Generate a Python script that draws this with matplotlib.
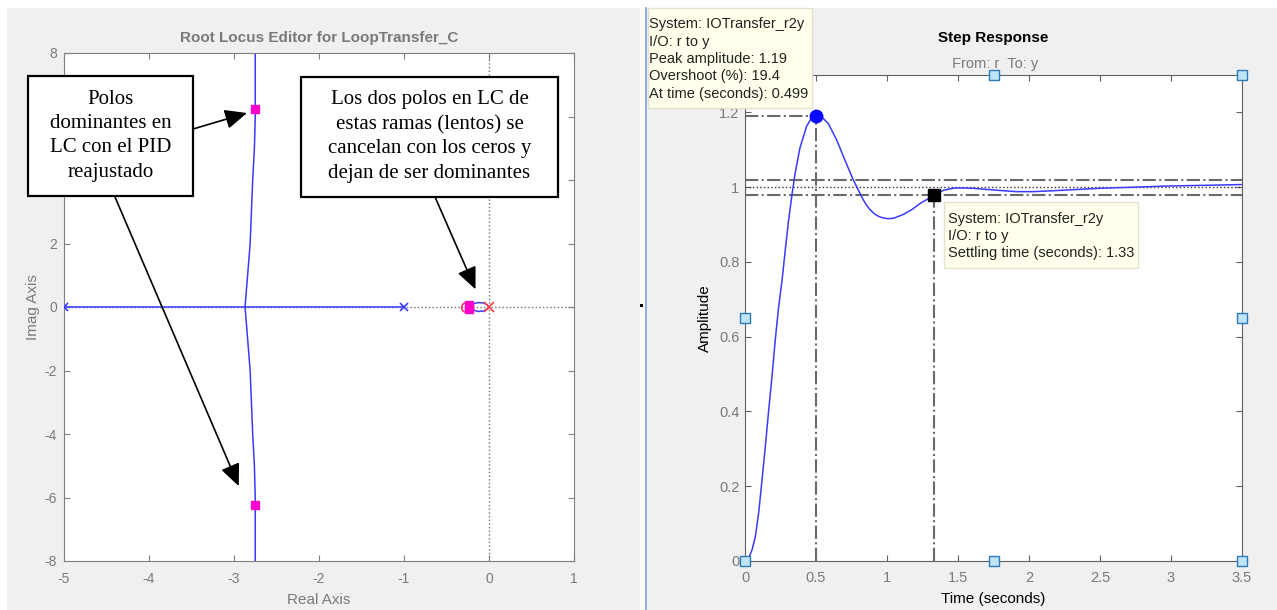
import numpy as np
import matplotlib
matplotlib.use('Agg')
import matplotlib.pyplot as plt
from matplotlib.patches import Rectangle

W, H = 1277, 610

# ---- root locus data (left) ----
real_x = [-5, -1]
real_y = [0, 0]
branch_x = [-2.75, -2.75, -2.76, -2.78, -2.81, -2.84, -2.87, -2.84, -2.81, -2.78, -2.76, -2.75, -2.75]
branch_y = [8, 6, 5, 4, 2, 1, 0, -1, -2, -4, -5, -6, -8]
loop_x = [-0.20, -0.18, -0.13, -0.07, -0.02, 0.0, -0.02, -0.07, -0.13, -0.18, -0.20]
loop_y = [0, 0.10, 0.14, 0.13, 0.07, 0, -0.07, -0.13, -0.14, -0.10, 0]
ol_poles = [-5, -1]
origin_pole = [0]
cl_zeros = [-0.27]
cl_poles_x = [-2.75, -2.75, -0.23, -0.23]
cl_poles_y = [6.25, -6.25, 0.05, -0.05]
rl_yticklabels = ['-8', '-6', '-4', '-2', '0', '2', '', '', '8']   # 4 and 6 hidden by the boxes

# ---- step response data (right) ----
t = [0, 0.021, 0.049, 0.073, 0.096, 0.120, 0.143, 0.167, 0.190, 0.213, 0.237, 0.261,
     0.283, 0.305, 0.329, 0.352, 0.387, 0.434, 0.470, 0.499, 0.540, 0.587, 0.646,
     0.704, 0.763, 0.822, 0.850, 0.880, 0.910, 0.940, 0.970, 0.998, 1.030, 1.055,
     1.115, 1.175, 1.232, 1.285, 1.333, 1.40, 1.467, 1.514, 1.60, 1.70, 1.80, 1.913,
     2.03, 2.148, 2.30, 2.50, 2.75, 2.97, 3.25, 3.5]
amp = [0, 0.004, 0.029, 0.065, 0.128, 0.217, 0.306, 0.404, 0.493, 0.591, 0.680, 0.751,
       0.830, 0.905, 0.975, 1.035, 1.105, 1.163, 1.186, 1.194, 1.188, 1.170, 1.126,
       1.072, 1.019, 0.974, 0.955, 0.940, 0.929, 0.922, 0.918, 0.916, 0.916, 0.918,
       0.927, 0.940, 0.956, 0.968, 0.980, 0.992, 0.997, 0.998, 0.997, 0.994, 0.991, 0.988,
       0.988, 0.990, 0.993, 0.997, 1.000, 1.003, 1.005, 1.007]
peak_t, peak_y = 0.499, 1.19
settle_t, settle_y = 1.33, 0.98
handles_t = [0, 1.75, 3.5, 0, 3.5, 1.75, 3.5]
handles_y = [0, 0, 0, 0.65, 0.65, 1.3, 1.3]

GRAY_BG = '#f0f0f0'
TXT_GRAY = '#7a7a7a'


def fx(px):
    return px / W


def fy(py):
    return 1 - py / H


plt.rcParams['font.family'] = ['Liberation Sans', 'DejaVu Sans']
plt.rcParams['axes.unicode_minus'] = False

fig = plt.figure(figsize=(W / 100, H / 100), dpi=100)
fig.patch.set_facecolor('white')
fig.add_artist(Rectangle((fx(7), 0), fx(633), 1 - 8 / H, transform=fig.transFigure,
                         facecolor=GRAY_BG, edgecolor='none', zorder=-10))
fig.add_artist(Rectangle((fx(646), 0), fx(631), 1 - 8 / H, transform=fig.transFigure,
                         facecolor=GRAY_BG, edgecolor='none', zorder=-10))
fig.add_artist(plt.Line2D([fx(645.5), fx(645.5)], [0, fy(8)], transform=fig.transFigure,
                          color='#7aa7d8', lw=1.2, zorder=-9))
fig.add_artist(Rectangle((fx(640), fy(307)), fx(3), 3 / H, transform=fig.transFigure,
                         facecolor='black', edgecolor='none'))

# ================= left: root locus =================
ax1 = fig.add_axes([fx(64), fy(561), fx(510), (561 - 53) / H])
ax1.set_facecolor('white')
ax1.set_xlim(-5, 1)
ax1.set_ylim(-8, 8)
ax1.set_xticks(range(-5, 2))
ax1.set_yticks(range(-8, 9, 2))
ax1.set_yticklabels(rl_yticklabels)
ax1.tick_params(direction='in', top=True, right=True, length=4, colors='#808080',
                labelcolor=TXT_GRAY, labelsize=10)
ax1.tick_params(axis='x', pad=8)
ax1.tick_params(axis='y', pad=5)
for s in ax1.spines.values():
    s.set_color('#808080')

ax1.axhline(0, color='#707070', ls=':', lw=1, zorder=1)
ax1.axvline(0, color='#707070', ls=':', lw=1, zorder=1)
ax1.plot(real_x, real_y, color='#3a3aff', lw=1.1, zorder=2)
ax1.plot(branch_x, branch_y, color='#3a3aff', lw=1.1, zorder=2)
ax1.plot(loop_x, loop_y, color='#3a3aff', lw=1.1, zorder=2)
ax1.plot(ol_poles, [0] * len(ol_poles), 'x', color='#3a3aff', ms=6, mew=1.2, zorder=3)
ax1.plot(origin_pole, [0], 'x', color='#ff4040', ms=7, mew=1.2, zorder=3)
ax1.plot(cl_zeros, [0], 'o', mfc='none', mec='#ff3366', ms=7, mew=1.2, zorder=3)
ax1.plot(cl_poles_x, cl_poles_y, 's', color='#ff00cc', ms=6, zorder=4)

fig.text(fx(319), fy(38), 'Root Locus Editor for LoopTransfer_C', ha='center', va='center',
         fontsize=11, fontweight='bold', color=TXT_GRAY)
fig.text(fx(319), fy(600), 'Real Axis', ha='center', va='center', fontsize=11, color=TXT_GRAY)
fig.text(fx(33), fy(307), 'Imag Axis', ha='center', va='center', fontsize=11,
         color=TXT_GRAY, rotation=90)

# annotation boxes
boxes = [
    ((-5.424, 3.496), 1.942, 3.78, (-4.453, 5.40),
     'Polos\ndominantes en\nLC con el PID\nreajustado'),
    ((-2.212, 3.465), 3.024, 3.78, (-0.70, 5.37),
     'Los dos polos en LC de\nestas ramas (lentos) se\ncancelan con los ceros y\ndejan de ser dominantes'),
]
for xy, w, h, c, txt in boxes:
    ax1.add_patch(Rectangle(xy, w, h, facecolor='white', edgecolor='black', lw=1.6,
                            clip_on=False, zorder=10))
    ax1.text(c[0], c[1], txt, ha='center', va='center', fontsize=15,
             family='Liberation Serif', linespacing=1.38, zorder=11, clip_on=False)

arrows = [((-3.482, 5.606), (-2.847, 6.11)),
          ((-4.40, 3.465), (-2.944, -5.64)),
          ((-0.635, 3.465), (-0.159, 0.557))]
for start, tip in arrows:
    ax1.annotate('', xy=tip, xytext=start, zorder=12,
                 arrowprops=dict(arrowstyle='-|>,head_length=0.9,head_width=0.4',
                                 color='black', lw=1.2, shrinkA=0, shrinkB=0,
                                 mutation_scale=15))

# ================= right: step response =================
ax2 = fig.add_axes([fx(745), fy(561), fx(497), (561 - 75) / H])
ax2.set_facecolor('white')
ax2.set_xlim(0, 3.5)
ax2.set_ylim(0, 1.3)
ax2.set_xticks(np.arange(0, 3.51, 0.5))
ax2.set_xticklabels(['0', '0.5', '1', '1.5', '2', '2.5', '3', '3.5'])
ax2.set_yticks(np.arange(0, 1.21, 0.2))
ax2.set_yticklabels(['0', '0.2', '0.4', '0.6', '0.8', '1', '1.2'])
ax2.tick_params(direction='in', top=True, right=True, length=4, colors='#606060',
                labelcolor=TXT_GRAY, labelsize=10.5)
ax2.tick_params(axis='x', pad=7)
ax2.tick_params(axis='y', pad=4)
for s in ax2.spines.values():
    s.set_color('#606060')

dd = dict(color='#6a6a6a', ls='-.', lw=1.5, zorder=2)
ax2.axhline(1.02, **dd)
ax2.axhline(0.98, **dd)
ax2.plot([0, peak_t], [peak_y, peak_y], **dd)
ax2.plot([peak_t, peak_t], [0, peak_y], **dd)
ax2.plot([settle_t, settle_t], [0, settle_y], **dd)
ax2.axhline(1.0, color='#333333', ls=':', lw=1, zorder=2)
ax2.plot(t, amp, color='#3a3aff', lw=1.1, zorder=3)
ax2.plot(peak_t, peak_y, 'o', color='#0a0aff', ms=9, zorder=4)
ax2.plot(settle_t, settle_y, 's', color='black', ms=9, zorder=4)
ax2.plot(handles_t, handles_y, 's', mfc='#bfe3f7', mec='#2b7bb9', ms=7, mew=1,
         clip_on=False, zorder=5)

fig.text(fx(993), fy(38), 'Step Response', ha='center', va='center', fontsize=11,
         fontweight='bold', color='black')
fig.text(fx(995), fy(64), 'From: r  To: y', ha='center', va='center', fontsize=10.5,
         color=TXT_GRAY)
fig.text(fx(993), fy(599), 'Time (seconds)', ha='center', va='center', fontsize=11)
fig.text(fx(705), fy(318), 'Amplitude', ha='center', va='center', fontsize=11, rotation=90)

# data tips
tips = [
    ((648, 8, 812, 108), 649,
     'System: IOTransfer_r2y\nI/O: r to y\nPeak amplitude: 1.19\nOvershoot (%): 19.4\nAt time (seconds): 0.499'),
    ((944, 202, 1138, 268), 948,
     'System: IOTransfer_r2y\nI/O: r to y\nSettling time (seconds): 1.33'),
]
for (x0, y0, x1, y1), tx, txt in tips:
    fig.add_artist(Rectangle((fx(x0), fy(y1)), fx(x1 - x0), (y1 - y0) / H,
                             transform=fig.transFigure, facecolor='#ffffec',
                             edgecolor='#e2e2d0', lw=1, zorder=20))
    fig.text(fx(tx), fy((y0 + y1) / 2 + 1), txt, ha='left', va='center', fontsize=10.5,
             linespacing=1.3, color='#222222', zorder=21)

fig.savefig('out.png', dpi=100)
